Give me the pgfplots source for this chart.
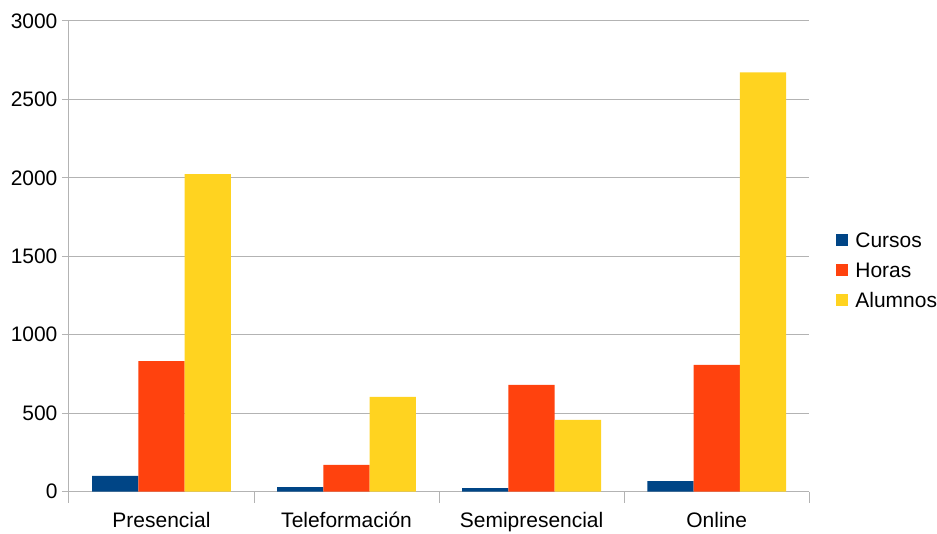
\documentclass[border=0pt]{standalone}
\usepackage{fontspec}
\setmainfont{Liberation Sans}
\usepackage{pgfplots}
\pgfplotsset{compat=1.18}

\definecolor{cursos}{HTML}{004586}
\definecolor{horas}{HTML}{FF420E}
\definecolor{alumnos}{HTML}{FFD320}
\definecolor{axisgray}{HTML}{B3B3B3}

\newcommand{\chartfont}{\fontsize{21bp}{24bp}\selectfont}

\begin{document}
\begin{tikzpicture}
\begin{axis}[
  scale only axis,
  width = 741bp,
  height = 471bp,
  ybar = 0pt,
  bar width = 46.3bp,
  xmin = -0.5, xmax = 3.5,
  ymin = 0, ymax = 3000,
  xtick = {0,1,2,3},
  xticklabels = {Presencial, Teleformación, Semipresencial, Online},
  xtick style = {draw=none},
  ytick = {0,500,...,3000},
  ytick style = {draw=axisgray, line width=1bp},
  tick align = outside,
  major tick length = 7bp,
  ymajorgrids,
  grid style = {axisgray, line width=1bp},
  axis x line* = bottom,
  axis y line* = left,
  axis line style = {axisgray, line width=1bp, -},
  /pgf/number format/assume math mode = true,
  /pgf/number format/1000 sep = {},
  tick label style = {font=\chartfont, text=black},
  xticklabel style = {anchor=base, yshift=-29bp, inner ysep=1bp,
                      text height=15bp, text depth=5bp},
  yticklabel style = {xshift=-1bp},
  clip = false,
  legend style = {
    draw = none,
    fill = none,
    font = \chartfont,
    at = {(1.0,0.471)},
    anchor = west,
    xshift = 26.5bp,
    row sep = 15bp,
    inner sep = 0pt,
    nodes = {inner sep=0pt, text height=15bp, text depth=0pt},
  },
  legend cell align = left,
  legend image code/.code = {
    \fill (0bp,-6bp) rectangle (12bp,6bp);
    \path (19.5bp,0bp);
  },
]

\addplot[fill=cursos, draw=none] coordinates {
  (0,100) (1,28) (2,22) (3,66)
};
\addplot[fill=horas, draw=none] coordinates {
  (0,832) (1,170) (2,680) (3,807)
};
\addplot[fill=alumnos, draw=none] coordinates {
  (0,2024) (1,603) (2,457) (3,2673)
};

\legend{Cursos, Horas, Alumnos}

% category boundary ticks
\pgfplotsinvokeforeach{-0.5,0.5,1.5,2.5,3.5}{
  \draw[axisgray, line width=1bp] (axis cs:#1,0) -- ++(0bp,-11bp);
}

% page margins as in the reference
\path (rel axis cs:0,0) ++(-69bp,-38bp);
\path (rel axis cs:1,1) ++(127bp,21bp);

\end{axis}
\end{tikzpicture}
\end{document}
